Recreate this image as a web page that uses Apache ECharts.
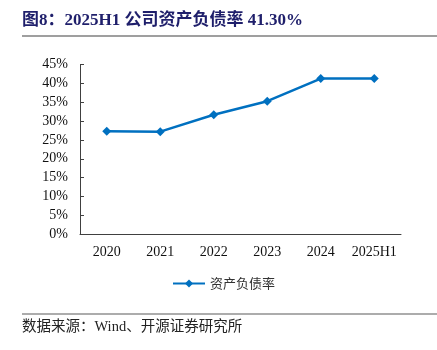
<!DOCTYPE html>
<html><head><meta charset="utf-8">
<script src="https://cdn.jsdelivr.net/npm/echarts@6/dist/echarts.min.js"></script>
<style>html,body{margin:0;padding:0;background:#fff}#c{width:437px;height:350px}</style>
</head><body><div id="c"></div>
<script>
var categories = ['2020','2021','2022','2023','2024','2025H1'];
var debtRatio = [27.3, 27.2, 31.7, 35.3, 41.3, 41.3];
var seriesName = '资产负债率';
var titleText = '图8：2025H1 公司资产负债率 41.30%';
var sourceText = '数据来源：Wind、开源证券研究所';

var chart = echarts.init(document.getElementById('c'), null, {renderer:'canvas'});
chart.setOption({
  animation:false,
  backgroundColor:'#fff',
  graphic:[
    {type:'text', left:22, top:12, style:{text:titleText, font:'bold 17px "Liberation Serif","Noto Sans CJK SC",serif', fill:'#1f1f6b'}},
    {type:'line', shape:{x1:22,y1:36,x2:437,y2:36}, style:{stroke:'#7f7f7f', lineWidth:1.5}},
    {type:'line', shape:{x1:22,y1:314,x2:437,y2:314}, style:{stroke:'#5a5a5a', lineWidth:1.2}},
    {type:'text', left:22, top:320, style:{text:sourceText, font:'14.5px "Liberation Serif","Noto Sans CJK SC",serif', fill:'#222'}}
  ],
  grid:{left:80, right:36, top:64.7, bottom:116},
  legend:{
    data:[seriesName], top:272, left:167, itemWidth:32, itemHeight:10, itemGap:8,
    textStyle:{fontFamily:'"Noto Sans CJK SC"', fontSize:13, color:'#333'}
  },
  xAxis:{
    type:'category', data:categories, boundaryGap:true,
    axisLine:{lineStyle:{color:'#404040', width:1}},
    axisTick:{inside:true, length:4, lineStyle:{color:'#404040'}},
    axisLabel:{interval:0, fontFamily:'"Liberation Serif",serif', fontSize:14, color:'#111', margin:11}
  },
  yAxis:{
    type:'value', min:0, max:45, interval:5,
    axisLine:{show:true, lineStyle:{color:'#404040', width:1}},
    axisTick:{show:true, inside:true, length:4, lineStyle:{color:'#404040'}},
    splitLine:{show:false},
    axisLabel:{formatter:'{value}%', fontFamily:'"Liberation Serif",serif', fontSize:14, color:'#111', margin:12}
  },
  series:[{
    name:seriesName, type:'line', data:debtRatio,
    symbol:'diamond', symbolSize:9,
    lineStyle:{color:'#0070C0', width:2.5},
    itemStyle:{color:'#0070C0'}
  }]
});
</script></body></html>
